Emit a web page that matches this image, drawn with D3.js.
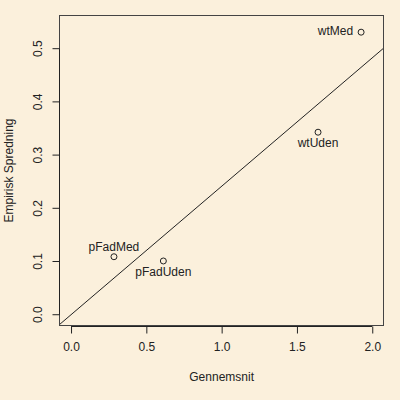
<!DOCTYPE html>
<html>
<head>
<meta charset="utf-8">
<script src="https://cdn.jsdelivr.net/npm/d3@7"></script>
<style>
  body { margin: 0; background: #FBF0DC; }
  svg { display: block; font-family: "Liberation Sans", Arial, sans-serif; }
</style>
</head>
<body>
<div id="chart"></div>
<script>
// data
const names  = ["wtMed", "wtUden", "pFadMed", "pFadUden"];
const means  = [1.926, 1.640, 0.285, 0.613];
const sds    = [0.531, 0.343, 0.109, 0.101];
const labelPos = ["left", "below", "above", "below"];
const xTicks = [0, 0.5, 1, 1.5, 2];
const yTicks = [0, 0.1, 0.2, 0.3, 0.4, 0.5];
const lineSlope = 0.2414, lineIntercept = 0;

const W = 400, H = 400;
const margin = {top: 15, right: 16, bottom: 74, left: 59};

const svg = d3.select("#chart").append("svg")
  .attr("width", W).attr("height", H);
svg.append("rect").attr("width", W).attr("height", H).attr("fill", "#FBF0DC");

const x = d3.scaleLinear().domain([-0.0799, 2.078]).range([margin.left, W - margin.right]);
const y = d3.scaleLinear().domain([-0.0212, 0.5633]).range([H - margin.bottom, margin.top]);

// clip for abline
svg.append("clipPath").attr("id", "clip").append("rect")
  .attr("x", margin.left).attr("y", margin.top)
  .attr("width", W - margin.left - margin.right)
  .attr("height", H - margin.top - margin.bottom);

// reference line
let xd = x.domain();
svg.append("line")
  .attr("clip-path", "url(#clip)")
  .attr("x1", x(xd[0])).attr("y1", y(lineIntercept + lineSlope * xd[0]))
  .attr("x2", x(xd[1])).attr("y2", y(lineIntercept + lineSlope * xd[1]))
  .attr("stroke", "#222").attr("stroke-width", 1);

// box
svg.append("rect")
  .attr("x", margin.left + 0.5).attr("y", margin.top + 0.5)
  .attr("width", W - margin.left - margin.right - 1)
  .attr("height", H - margin.top - margin.bottom - 1)
  .attr("fill", "none").attr("stroke", "#444");

// axes
const xAxis = d3.axisBottom(x).tickValues(xTicks).tickFormat(d3.format(".1f")).tickSizeOuter(0).tickSize(7).tickPadding(9);
const gx = svg.append("g").attr("transform", "translate(0," + (H - margin.bottom + 0.5) + ")").call(xAxis);
gx.select(".domain").attr("d", "M" + x(0) + ",0H" + x(2)).attr("stroke", "#222");
gx.selectAll("line").attr("stroke", "#222");
gx.selectAll("text").style("font-size", "12px").attr("fill", "#222").attr("font-family", "Liberation Sans, Arial, sans-serif");

const yAxis = d3.axisLeft(y).tickValues(yTicks).tickFormat(d3.format(".1f")).tickSizeOuter(0).tickSize(7);
const gy = svg.append("g").attr("transform", "translate(" + (margin.left + 0.5) + ",0)").call(yAxis);
gy.select(".domain").attr("d", "M0," + y(0) + "V" + y(0.5)).attr("stroke", "#222");
gy.selectAll("line").attr("stroke", "#222");
gy.selectAll("text")
  .style("font-size", "12px").attr("fill", "#222").attr("font-family", "Liberation Sans, Arial, sans-serif")
  .attr("x", 0).attr("dy", null)
  .attr("text-anchor", "middle")
  .attr("transform", d => "translate(-21," + y(d) + ") rotate(-90)")
  .attr("y", 0)
  .attr("dominant-baseline", "middle");
gy.selectAll(".tick").attr("transform", null);
gy.selectAll(".tick line").attr("transform", d => "translate(0," + y(d) + ")");

// titles
svg.append("text").attr("x", x(1)).attr("y", 381)
  .attr("text-anchor", "middle").style("font-size", "12px").attr("fill", "#222")
  .text("Gennemsnit");
svg.append("text").attr("transform", "translate(13," + ((margin.top + H - margin.bottom) / 2) + ") rotate(-90)")
  .attr("text-anchor", "middle").style("font-size", "12px").attr("fill", "#222")
  .text("Empirisk Spredning");

// points
const pts = names.map((n, i) => ({name: n, mx: means[i], sd: sds[i], pos: labelPos[i]}));
svg.selectAll("circle.pt").data(pts).enter().append("circle")
  .attr("class", "pt")
  .attr("cx", d => x(d.mx)).attr("cy", d => y(d.sd)).attr("r", 3)
  .attr("fill", "none").attr("stroke", "#222").attr("stroke-width", 1);

svg.selectAll("text.lab").data(pts).enter().append("text")
  .attr("class", "lab")
  .style("font-size", "12px").attr("fill", "#222")
  .attr("text-anchor", d => d.pos === "left" ? "end" : "middle")
  .attr("x", d => d.pos === "left" ? x(d.mx) - 8 : x(d.mx))
  .attr("y", d => d.pos === "left" ? y(d.sd) + 3 : d.pos === "above" ? y(d.sd) - 6 : y(d.sd) + 15)
  .text(d => d.name);
</script>
</body>
</html>
